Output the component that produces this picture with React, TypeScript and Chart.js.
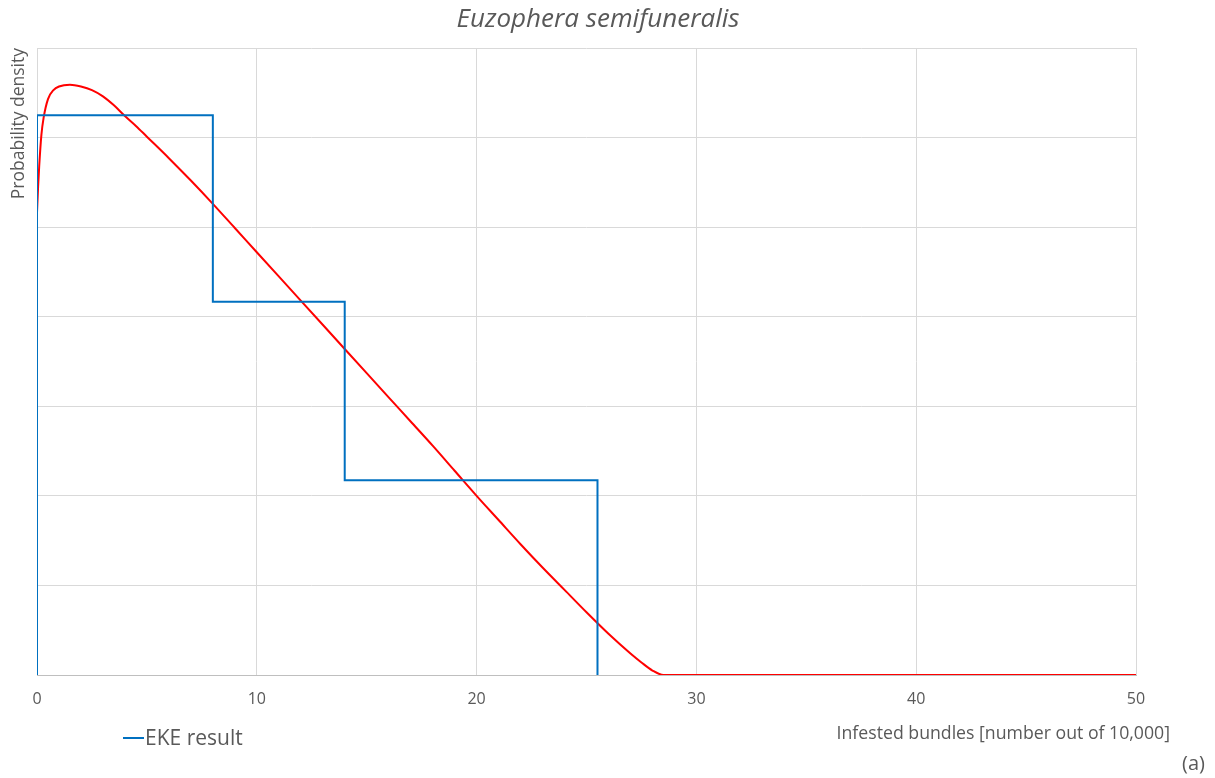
import React, { useEffect, useRef } from "react";
import Chart from "chart.js/auto";

const chartTitle = "Euzophera semifuneralis";
const yAxisTitle = "Probability density";
const xAxisTitle = "Infested bundles [number out of 10,000]";
const panelLabel = "(a)";
const xTicks = [0, 10, 20, 30, 40, 50];

// EKE histogram (step outline)
const ekeLabel = "EKE result";
const ekeX = [0, 0, 8, 8, 14, 14, 25.5, 25.5];
const ekeY = [0, 0.0625, 0.0625, 0.04167, 0.04167, 0.02174, 0.02174, 0];

// fitted distribution curve
const fitLabel = "Fitted distribution";
const fitX = [0, 0.05, 0.1, 0.2, 0.3, 0.5, 0.75, 1.0, 1.5, 2, 2.5, 3, 3.5, 4, 4.5, 5, 6, 7, 8, 9, 10, 11, 12, 13, 14, 15, 16, 17, 18, 19, 20, 21, 22, 23, 24, 25, 26, 27, 27.5, 28, 28.5, 30, 35, 40, 45, 50];
const fitY = [0.0516, 0.0545, 0.0568, 0.0603, 0.0622, 0.0643, 0.0653, 0.0657, 0.0659, 0.0657, 0.0653, 0.0646, 0.0636, 0.0624, 0.0613, 0.0601, 0.0577, 0.0552, 0.0526, 0.0499, 0.0472, 0.0445, 0.0418, 0.0391, 0.0364, 0.0337, 0.031, 0.0283, 0.0256, 0.0228, 0.02, 0.0173, 0.0146, 0.012, 0.0095, 0.007, 0.0046, 0.0024, 0.0014, 0.0005, 0, 0, 0, 0, 0, 0];

const TEXT = "#595959";
const FONT = "'Open Sans', sans-serif";

const overlay = {
  id: "overlay",
  afterDraw(chart: any) {
    const ctx = chart.ctx;
    ctx.save();
    ctx.fillStyle = TEXT;
    ctx.textBaseline = "middle";
    // title
    ctx.font = `italic 26px ${FONT}`;
    ctx.textAlign = "center";
    ctx.fillText(chartTitle, 598, 20);
    // legend
    const ds = chart.data.datasets[0];
    ctx.strokeStyle = ds.borderColor;
    ctx.lineWidth = 2;
    ctx.beginPath();
    ctx.moveTo(123, 738);
    ctx.lineTo(144, 738);
    ctx.stroke();
    ctx.font = `21px ${FONT}`;
    ctx.textAlign = "left";
    ctx.fillText(ds.label, 145, 739);
    // x axis title
    ctx.font = `17.7px ${FONT}`;
    ctx.textAlign = "right";
    ctx.fillText(xAxisTitle, 1170, 734);
    // panel label
    ctx.font = `20px ${FONT}`;
    ctx.fillText(panelLabel, 1205, 764);
    ctx.restore();
  },
};

export default function App() {
  const ref = useRef<HTMLCanvasElement>(null);
  useEffect(() => {
    if (!ref.current) return;
    const chart = new Chart(ref.current, {
      type: "scatter",
      data: {
        datasets: [
          {
            label: ekeLabel,
            data: ekeX.map((x, i) => ({ x, y: ekeY[i] })),
            showLine: true,
            borderColor: "#0070C0",
            backgroundColor: "#0070C0",
            borderWidth: 2,
            pointRadius: 0,
            borderJoinStyle: "miter",
            tension: 0,
          },
          {
            label: fitLabel,
            data: fitX.map((x, i) => ({ x, y: fitY[i] })),
            showLine: true,
            borderColor: "#FF0000",
            backgroundColor: "#FF0000",
            borderWidth: 2,
            pointRadius: 0,
            cubicInterpolationMode: "monotone",
          },
        ],
      },
      options: {
        responsive: false,
        animation: false,
        devicePixelRatio: 1,
        layout: { padding: { left: 0, right: 79, top: 48, bottom: 0 } },
        plugins: {
          legend: { display: false },
          tooltip: { enabled: false },
          title: { display: false },
        },
        scales: {
          x: {
            type: "linear",
            min: 0,
            max: 50,
            afterBuildTicks: (s: any) => {
              s.ticks = xTicks.map((v) => ({ value: v }));
            },
            afterFit: (s: any) => {
              s.height = 103;
            },
            grid: { color: "#d9d9d9", drawTicks: false, lineWidth: 1 },
            border: { display: true, color: "#bfbfbf", width: 1 },
            ticks: {
              color: TEXT,
              padding: 15,
              font: { family: FONT, size: 16 },
              maxRotation: 0,
            },
          },
          y: {
            min: 0,
            max: 0.07,
            afterFit: (s: any) => {
              s.width = 37;
            },
            grid: { color: "#d9d9d9", drawTicks: false, lineWidth: 1 },
            border: { display: false },
            ticks: { display: false, stepSize: 0.01 },
            title: {
              display: true,
              text: yAxisTitle,
              color: TEXT,
              align: "end",
              font: { family: FONT, size: 17.5 },
              padding: { top: 9, bottom: 0 },
            },
          },
        },
      },
      plugins: [overlay],
    } as any);
    return () => chart.destroy();
  }, []);
  return (
    <div style={{ position: "absolute", left: 0, top: 0, width: 1215, height: 778, background: "#fff" }}>
      <canvas ref={ref} width={1215} height={778} style={{ display: "block" }} />
    </div>
  );
}
